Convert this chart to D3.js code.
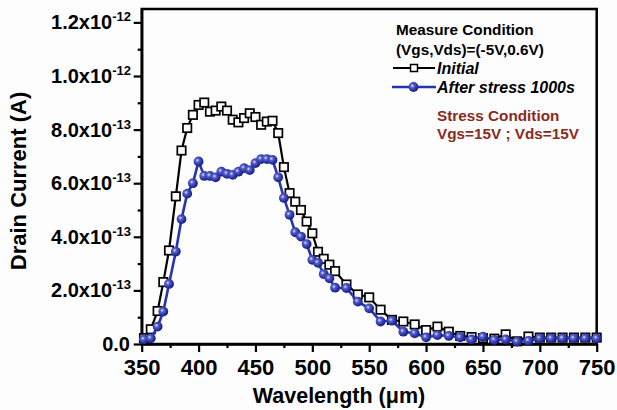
<!DOCTYPE html>
<html><head><meta charset="utf-8">
<script src="https://cdn.jsdelivr.net/npm/d3@7/dist/d3.min.js"></script>
<style>
html,body{margin:0;padding:0;background:#fdfdfe;}
svg{display:block;}
text{font-family:"Liberation Sans",Arial,sans-serif;font-weight:bold;}
</style></head>
<body><svg id="c" width="617" height="410"></svg>
<script>
// Wavelength (nm) sample points
const wavelength = [352,358,364,369,374,380,385,390,395,
  400,405,410,415,420,425,430,435,440,445,450,455,460,465,470,475,480,485,490,495,500,505,510,515,520,
  530,540,550,560,570,580,590,600,610,620,630,640,650,660,670,680,690,700,710,720,730,740,750];
// Drain current in units of 1e-13 A
const initial = [0.22,0.55,1.23,2.31,3.49,5.51,7.22,8.06,8.55,
  8.92,9.01,8.67,8.71,8.86,8.71,8.37,8.27,8.43,8.61,8.47,8.18,8.30,8.33,7.87,6.60,5.63,5.31,5.00,4.57,4.13,3.44,3.18,2.96,2.72,
  2.22,1.85,1.74,1.28,0.90,0.84,0.73,0.52,0.65,0.46,0.30,0.26,0.22,0.20,0.36,0.10,0.28,0.24,0.24,0.24,0.24,0.24,0.24];
const afterStress = [0.17,0.21,0.65,1.21,2.24,3.45,4.66,5.61,6.00,
  6.81,6.27,6.27,6.22,6.43,6.35,6.31,6.43,6.56,6.49,6.75,6.90,6.90,6.87,6.22,5.45,4.82,4.17,4.01,3.73,3.14,3.03,2.61,2.45,2.10,
  2.09,1.58,1.33,0.84,0.87,0.46,0.40,0.25,0.33,0.30,0.25,0.17,0.27,0.15,0.17,0.09,0.12,0.21,0.21,0.21,0.21,0.21,0.21];
const xTicks = [350,400,450,500,550,600,650,700,750];
const yTicks = [0,2,4,6,8,10,12];
const yTickMantissa = ["0.0","2.0x10","4.0x10","6.0x10","8.0x10","1.0x10","1.2x10"];
const yTickExponent = ["","-13","-13","-13","-13","-12","-12"];
const legendTitle = ["Measure Condition","(Vgs,Vds)=(-5V,0.6V)"];
const seriesNames = ["Initial","After stress 1000s"];
const stressText = ["Stress Condition","Vgs=15V ; Vds=15V"];

const svg = d3.select("#c");
const x = d3.scaleLinear().domain([350,750]).range([141.7,596.7]);
const y = d3.scaleLinear().domain([0,12.5]).range([344,9]);

const defs = svg.append("defs");
const g = defs.append("radialGradient").attr("id","ball").attr("cx","38%").attr("cy","38%").attr("r","65%");
g.append("stop").attr("offset","0%").attr("stop-color","#e4e6ff");
g.append("stop").attr("offset","28%").attr("stop-color","#5a63c8");
g.append("stop").attr("offset","70%").attr("stop-color","#2a31a4");
g.append("stop").attr("offset","100%").attr("stop-color","#181c80");

// frame
svg.append("rect").attr("x",x(350)).attr("y",y(12.5)).attr("width",x(750)-x(350)).attr("height",y(0)-y(12.5))
  .attr("fill","none").attr("stroke","#000").attr("stroke-width",2.5);

// axes
const xAxis = d3.axisBottom(x).tickValues(xTicks).tickSize(8).tickFormat(d3.format("d")).tickSizeOuter(0);
const xg = svg.append("g").attr("transform",`translate(0,${y(0)})`).call(xAxis);
xg.select(".domain").attr("stroke-width",2.5);
xg.selectAll(".tick line").attr("stroke-width",2.2);
xg.selectAll(".tick text").attr("font-size",22).attr("fill","#000").attr("dy",0).attr("y",31)
  .style("font-family","'Liberation Sans',Arial,sans-serif").style("font-weight","bold");
const xMinor = d3.axisBottom(x).tickValues(d3.range(375,750,50)).tickSize(4).tickFormat("").tickSizeOuter(0);
const xmg = svg.append("g").attr("transform",`translate(0,${y(0)})`).call(xMinor);
xmg.select(".domain").remove();
xmg.selectAll(".tick line").attr("stroke-width",2.2);

const yAxis = d3.axisLeft(y).tickValues(yTicks).tickSize(8).tickFormat("").tickSizeOuter(0);
const yg = svg.append("g").attr("transform",`translate(${x(350)},0)`).call(yAxis);
yg.select(".domain").attr("stroke-width",2.5);
yg.selectAll(".tick line").attr("stroke-width",2.2);
const yMinor = d3.axisLeft(y).tickValues(d3.range(1,12,2)).tickSize(4).tickFormat("").tickSizeOuter(0);
const ymg = svg.append("g").attr("transform",`translate(${x(350)},0)`).call(yMinor);
ymg.select(".domain").remove();
ymg.selectAll(".tick line").attr("stroke-width",2.2);

// y tick labels with superscripts
yTicks.forEach((v,i)=>{
  const t = svg.append("text").attr("x", i===0 ? 130 : 131).attr("y", y(v)+7)
    .attr("text-anchor","end").attr("font-size",20).attr("fill","#000");
  t.append("tspan").text(yTickMantissa[i]);
  if (yTickExponent[i]) t.append("tspan").attr("font-size",13).attr("dy",-8).text(yTickExponent[i]);
});

// axis titles
svg.append("text").attr("x",339).attr("y",403).attr("text-anchor","middle").attr("font-size",21.5).attr("fill","#000")
  .text("Wavelength (\u03bcm)");
svg.append("text").attr("transform","translate(26,181) rotate(-90)").attr("text-anchor","middle")
  .attr("font-size",22).attr("fill","#000").text("Drain Current (A)");

// series
const line = d3.line().x((d,i)=>x(wavelength[i])).y(d=>y(d));
svg.append("path").datum(initial).attr("d",line).attr("fill","none").attr("stroke","#000").attr("stroke-width",2.2);
svg.selectAll("rect.sq").data(initial).join("rect").attr("class","sq")
  .attr("x",(d,i)=>x(wavelength[i])-4.2).attr("y",d=>y(d)-4.2).attr("width",8.4).attr("height",8.4)
  .attr("fill","#fff").attr("stroke","#000").attr("stroke-width",1.7);
svg.append("path").datum(afterStress).attr("d",line).attr("fill","none").attr("stroke","#2634b0").attr("stroke-width",2.6);
svg.selectAll("circle.bl").data(afterStress).join("circle").attr("class","bl")
  .attr("cx",(d,i)=>x(wavelength[i])).attr("cy",d=>y(d)).attr("r",4.9).attr("fill","url(#ball)");

// legend
const lg = svg.append("g");
lg.append("text").attr("x",396).attr("y",35).attr("font-size",15.3).attr("fill","#000").text(legendTitle[0]);
lg.append("text").attr("x",396).attr("y",55).attr("font-size",15.3).attr("fill","#000").text(legendTitle[1]);
lg.append("line").attr("x1",393).attr("x2",435).attr("y1",68).attr("y2",68).attr("stroke","#000").attr("stroke-width",2.2);
lg.append("rect").attr("x",410.5).attr("y",64.5).attr("width",7).attr("height",7).attr("fill","#fff").attr("stroke","#000").attr("stroke-width",1.5);
lg.append("text").attr("x",437).attr("y",74).attr("font-size",16).attr("font-style","italic").attr("fill","#000").text(seriesNames[0]);
lg.append("line").attr("x1",392).attr("x2",436).attr("y1",87).attr("y2",87).attr("stroke","#2634b0").attr("stroke-width",2.6);
lg.append("circle").attr("cx",413.5).attr("cy",87).attr("r",4.9).attr("fill","url(#ball)");
lg.append("text").attr("x",437).attr("y",93).attr("font-size",16).attr("font-style","italic").attr("fill","#000").text(seriesNames[1]);
lg.append("text").attr("x",437).attr("y",121).attr("font-size",15.3).attr("fill","#8a2a20").text(stressText[0]);
lg.append("text").attr("x",437).attr("y",138.5).attr("font-size",15.3).attr("fill","#8a2a20").text(stressText[1]);
</script></body></html>
